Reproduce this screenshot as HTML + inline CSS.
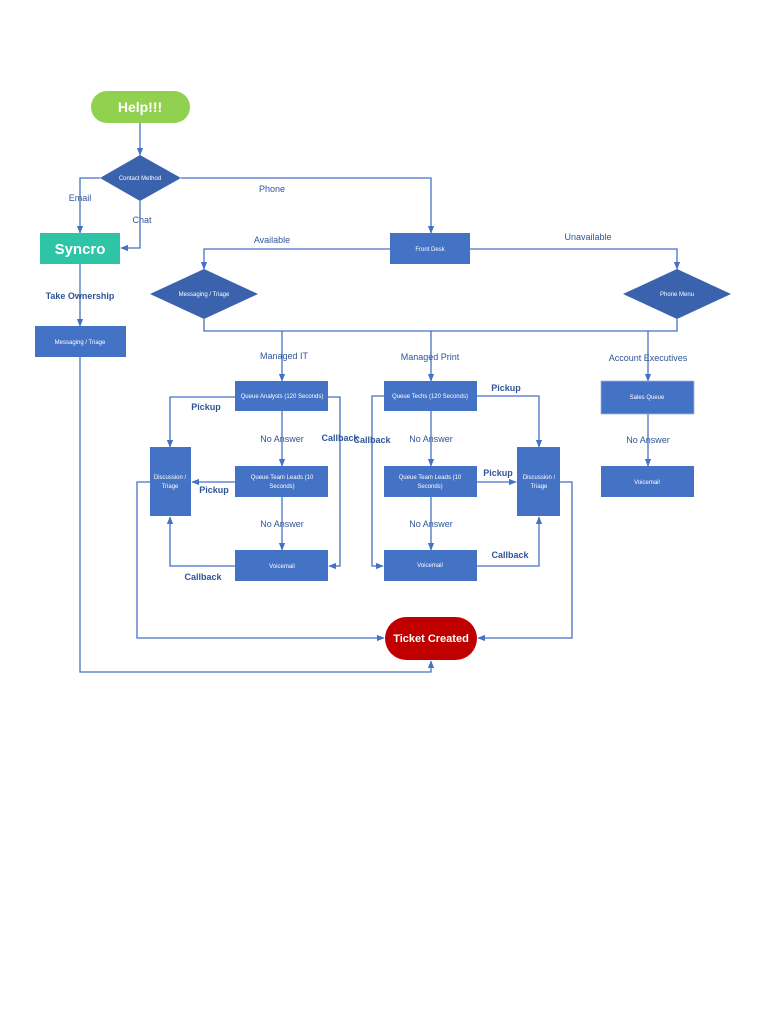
<!DOCTYPE html>
<html><head><meta charset="utf-8"><style>
html,body{margin:0;padding:0;background:#fff;}
svg{display:block;}
.n{fill:#4472c4;}
.d{fill:#3b62ad;}
.t{font-family:"Liberation Sans",sans-serif;fill:#fff;font-size:6px;text-anchor:middle;}
.l{font-family:"Liberation Sans",sans-serif;fill:#2f5597;font-size:9px;text-anchor:middle;}
.lb{font-family:"Liberation Sans",sans-serif;fill:#2f5597;font-size:9px;font-weight:bold;text-anchor:middle;}
.c{fill:none;stroke:#4472c4;stroke-width:1.3;}
</style></head><body>
<svg width="768" height="1024" viewBox="0 0 768 1024" xmlns="http://www.w3.org/2000/svg">
<defs><marker id="a" viewBox="0 0 10 10" refX="9" refY="5" markerWidth="6" markerHeight="6" orient="auto"><path d="M0,1 L10,5 L0,9 z" fill="#4472c4"/></marker></defs>
<g class="c" marker-end="url(#a)">
<path d="M140,123 V155"/>
<path d="M100,178 H80 V233"/>
<path d="M140,201 V248 H121"/>
<path d="M181,178 H431 V233"/>
<path d="M390,249 H204 V269"/>
<path d="M470,249 H677 V269"/>
<path d="M80,264 V326"/>
<path d="M282,331 V381"/>
<path d="M431,331 V381"/>
<path d="M648,331 V381"/>
<path d="M648,414 V466"/>
<path d="M235,397 H170 V447"/>
<path d="M328,397 H340 V566 H329"/>
<path d="M282,411 V466"/>
<path d="M282,497 V550"/>
<path d="M235,482 H192"/>
<path d="M235,566 H170 V517"/>
<path d="M150,482 H137 V638 H384"/>
<path d="M384,396 H372 V566 H383"/>
<path d="M477,396 H539 V447"/>
<path d="M431,411 V466"/>
<path d="M431,497 V550"/>
<path d="M477,482 H516"/>
<path d="M477,566 H539 V517"/>
<path d="M560,482 H572 V638 H478"/>
<path d="M80,357 V672 H431 V661"/>
</g>
<path class="c" d="M204,319 V331 H677 V319"/>
<rect x="91" y="91" width="99" height="32" rx="16" fill="#92d050"/>
<text x="140" y="112" font-family="Liberation Sans,sans-serif" font-size="14" font-weight="bold" fill="#fff" text-anchor="middle">Help!!!</text>
<polygon class="d" points="140,155 181,178 140,201 100,178"/>
<text class="t" x="140" y="180">Contact Method</text>
<rect x="40" y="233" width="80" height="31" fill="#2ec4a6"/>
<text x="80" y="254" font-family="Liberation Sans,sans-serif" font-size="15" font-weight="bold" fill="#fff" text-anchor="middle">Syncro</text>
<rect class="n" x="35" y="326" width="91" height="31"/><text class="t" x="80" y="344">Messaging / Triage</text>
<rect class="n" x="390" y="233" width="80" height="31"/><text class="t" x="430" y="251">Front Desk</text>
<polygon class="d" points="204,269 258,294 204,319 150,294"/><text class="t" x="204" y="296">Messaging / Triage</text>
<polygon class="d" points="677,269 731,294 677,319 623,294"/><text class="t" x="677" y="296">Phone Menu</text>
<rect class="n" x="235" y="381" width="93" height="30"/><text class="t" x="282" y="398">Queue Analysts (120 Seconds)</text>
<rect class="n" x="235" y="466" width="93" height="31"/><text class="t" x="282" y="479">Queue Team Leads (10</text><text class="t" x="282" y="488">Seconds)</text>
<rect class="n" x="235" y="550" width="93" height="31"/><text class="t" x="282" y="568">Voicemail</text>
<rect class="n" x="150" y="447" width="41" height="69"/><text class="t" x="170" y="479">Discussion /</text><text class="t" x="170" y="488">Triage</text>
<rect class="n" x="384" y="381" width="93" height="30"/><text class="t" x="430" y="398">Queue Techs (120 Seconds)</text>
<rect class="n" x="384" y="466" width="93" height="31"/><text class="t" x="430" y="479">Queue Team Leads (10</text><text class="t" x="430" y="488">Seconds)</text>
<rect class="n" x="384" y="550" width="93" height="31"/><text class="t" x="430" y="567">Voicemail</text>
<rect class="n" x="517" y="447" width="43" height="69"/><text class="t" x="539" y="479">Discussion /</text><text class="t" x="539" y="488">Triage</text>
<rect class="n" x="601" y="381" width="93" height="33" stroke="#9fb4dc" stroke-width="0.8"/><text class="t" x="647" y="399">Sales Queue</text>
<rect class="n" x="601" y="466" width="93" height="31"/><text class="t" x="647" y="484">Voicemail</text>
<rect x="385" y="617" width="92" height="43" rx="21.5" fill="#c00000"/>
<text x="431" y="642" font-family="Liberation Sans,sans-serif" font-size="11" font-weight="bold" fill="#fff" text-anchor="middle">Ticket Created</text>
<text class="l" x="80" y="201">Email</text>
<text class="l" x="142" y="223">Chat</text>
<text class="l" x="272" y="192">Phone</text>
<text class="l" x="272" y="243">Available</text>
<text class="l" x="588" y="240">Unavailable</text>
<text class="lb" x="80" y="299">Take Ownership</text>
<text class="l" x="284" y="359">Managed IT</text>
<text class="l" x="430" y="360">Managed Print</text>
<text class="l" x="648" y="361">Account Executives</text>
<text class="lb" x="206" y="410">Pickup</text>
<text class="lb" x="506" y="391">Pickup</text>
<text class="l" x="282" y="442">No Answer</text>
<text class="l" x="431" y="442">No Answer</text>
<text class="l" x="648" y="443">No Answer</text>
<text class="lb" x="340" y="441">Callback</text>
<text class="lb" x="372" y="443">Callback</text>
<text class="lb" x="214" y="493">Pickup</text>
<text class="lb" x="498" y="476">Pickup</text>
<text class="l" x="282" y="527">No Answer</text>
<text class="l" x="431" y="527">No Answer</text>
<text class="lb" x="203" y="580">Callback</text>
<text class="lb" x="510" y="558">Callback</text>
</svg>
</body></html>
